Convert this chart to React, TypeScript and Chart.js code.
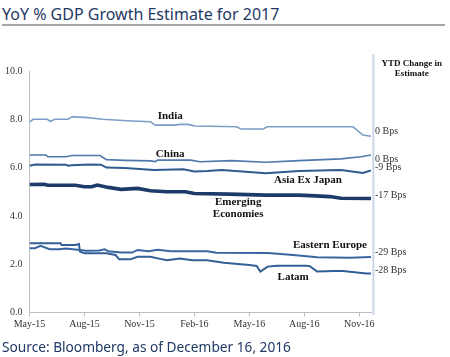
import React, { useEffect, useRef } from "react";
import { Chart, registerables } from "chart.js";

Chart.register(...registerables);

// x values are month indices counted from May-15 (0) ; y values are % YoY GDP growth estimates
const indiaX = [0, 0.2, 0.97, 1.13, 1.4, 2.1, 2.33, 3.04, 4.0, 5.33, 6.6, 6.86, 7.95, 8.2, 8.66, 9.04, 11.3, 11.55, 12.75, 12.97, 17.66, 18.2, 18.64];
const indiaY = [7.88, 8.0, 8.0, 7.92, 8.0, 8.0, 8.1, 8.08, 8.0, 7.94, 7.9, 7.76, 7.76, 7.79, 7.79, 7.72, 7.69, 7.6, 7.6, 7.69, 7.69, 7.35, 7.3];

const chinaX = [0, 0.9, 1.0, 2.0, 2.3, 3.85, 4.2, 5.2, 6.6, 6.85, 7.0, 8.8, 9.3, 11.0, 12.9, 14.7, 17.0, 18.1, 18.64];
const chinaY = [6.52, 6.52, 6.45, 6.45, 6.5, 6.5, 6.33, 6.3, 6.28, 6.25, 6.31, 6.31, 6.24, 6.29, 6.22, 6.29, 6.36, 6.45, 6.52];

const asiaX = [0, 0.3, 2.0, 2.1, 2.3, 3.3, 3.9, 4.2, 5.2, 6.8, 8.4, 9.0, 9.7, 10.5, 12.9, 14.7, 17.0, 18.2, 18.64];
const asiaY = [6.08, 6.13, 6.12, 6.08, 6.1, 6.13, 6.12, 6.0, 5.98, 5.9, 5.93, 5.84, 5.86, 5.9, 5.77, 5.86, 5.9, 5.78, 5.88];

const emX = [0, 0.8, 1.0, 2.5, 3.0, 3.4, 3.7, 4.3, 5.0, 5.9, 6.6, 7.5, 8.5, 9.0, 10.9, 12.9, 14.7, 15.6, 16.4, 17.0, 18.64];
const emY = [5.3, 5.31, 5.27, 5.27, 5.21, 5.21, 5.28, 5.18, 5.1, 5.14, 5.04, 5.0, 5.0, 4.93, 4.9, 4.86, 4.86, 4.83, 4.8, 4.73, 4.72];

const eeX = [0, 0.3, 0.6, 1.1, 1.6, 2.0, 3.1, 3.8, 4.1, 4.3, 5.0, 5.6, 5.9, 6.5, 7.0, 7.7, 9.7, 10.2, 13.0, 14.4, 15.7, 17.5, 18.64];
const eeY = [2.66, 2.66, 2.76, 2.62, 2.62, 2.65, 2.56, 2.57, 2.62, 2.54, 2.48, 2.48, 2.59, 2.54, 2.6, 2.54, 2.54, 2.47, 2.46, 2.38, 2.29, 2.27, 2.3];

const latamX = [0, 1.7, 1.75, 2.5, 2.7, 2.75, 3.0, 4.2, 4.7, 4.9, 5.5, 5.9, 6.6, 7.2, 7.5, 8.2, 8.9, 9.7, 10.6, 12.0, 12.4, 12.6, 13.0, 13.5, 15.1, 15.3, 15.7, 16.6, 17.1, 18.4, 18.64];
const latamY = [2.87, 2.87, 2.8, 2.8, 2.84, 2.52, 2.45, 2.45, 2.38, 2.2, 2.2, 2.31, 2.31, 2.21, 2.16, 2.24, 2.16, 2.16, 2.06, 1.97, 1.93, 1.69, 1.9, 1.94, 1.94, 1.92, 1.7, 1.72, 1.72, 1.62, 1.62];

const xTickValues = [0, 3, 6, 9, 12, 15, 18];
const xTickLabels = ["May-15", "Aug-15", "Nov-15", "Feb-16", "May-16", "Aug-16", "Nov-16"];
const yTickValues = [0, 2, 4, 6, 8, 10];

const seriesNames = ["India", "China", "Asia Ex Japan", "Emerging Economies", "Eastern Europe", "Latam"];
const ytdChanges = ["0 Bps", "0 Bps", "-9 Bps", "-17 Bps", "-29 Bps", "-28 Bps"];

const toPts = (xs: number[], ys: number[]) => xs.map((x, i) => ({ x, y: ys[i] }));

// annotation anchors in data units (month index, value)
const nameAnchors: [string, number, number][] = [
  ["India", 7.68, 8.14],
  ["China", 7.68, 6.56],
  ["Asia Ex Japan", 15.2, 5.49],
  ["Emerging", 11.39, 4.55],
  ["Economies", 11.39, 4.07],
  ["Eastern Europe", 16.4, 2.8],
  ["Latam", 14.39, 1.48],
];
const ytdAnchorsY = [7.52, 6.36, 6.01, 4.87, 2.49, 1.73];

const annotationPlugin = {
  id: "annot",
  afterDatasetsDraw(chart: any) {
    const { ctx, scales } = chart;
    const xs = scales.x;
    const ys = scales.y;
    ctx.save();
    // right divider line
    const lx = xs.getPixelForValue(18.77);
    ctx.strokeStyle = "#c9d6ea";
    ctx.lineWidth = 2;
    ctx.beginPath();
    ctx.moveTo(lx, ys.getPixelForValue(10.7));
    ctx.lineTo(lx, ys.getPixelForValue(-0.1));
    ctx.stroke();

    ctx.fillStyle = "#111";
    ctx.textBaseline = "middle";
    ctx.textAlign = "center";
    ctx.font = "bold 11px 'Liberation Serif'";
    nameAnchors.forEach(([t, x, y]) => {
      ctx.fillText(t, xs.getPixelForValue(x), ys.getPixelForValue(y));
    });

    ctx.font = "bold 9px 'Liberation Serif'";
    ctx.fillText("YTD Change in", xs.getPixelForValue(20.86), ys.getPixelForValue(10.29));
    ctx.fillText("Estimate", xs.getPixelForValue(20.86), ys.getPixelForValue(9.88));

    ctx.textAlign = "left";
    ctx.font = "10px 'Liberation Serif'";
    ctx.fillStyle = "#333";
    ytdChanges.forEach((t, i) => {
      ctx.fillText(t, xs.getPixelForValue(18.86), ys.getPixelForValue(ytdAnchorsY[i]));
    });
    ctx.restore();
  },
};

export default function App() {
  const ref = useRef<HTMLCanvasElement>(null);
  useEffect(() => {
    document.body.style.margin = "0";
    const colors = ["#7d9dc7", "#4f78ab", "#2f5b8e", "#1d3b68", "#3a66a0", "#335f97"];
    const widths = [1.6, 1.6, 2, 3.6, 2, 2];
    const data = [
      toPts(indiaX, indiaY),
      toPts(chinaX, chinaY),
      toPts(asiaX, asiaY),
      toPts(emX, emY),
      toPts(eeX, eeY),
      toPts(latamX, latamY),
    ];
    const chart = new Chart(ref.current!, {
      type: "line",
      data: {
        datasets: data.map((d, i) => ({
          label: seriesNames[i],
          data: d,
          borderColor: colors[i],
          borderWidth: widths[i],
          pointRadius: 0,
          tension: 0,
          fill: false,
        })),
      },
      options: {
        responsive: false,
        animation: false,
        events: [],
        layout: { padding: { left: 0, top: 71, right: 79, bottom: 0 } },
        plugins: { legend: { display: false }, tooltip: { enabled: false }, title: { display: false } },
        scales: {
          x: {
            type: "linear",
            min: 0,
            max: 18.64,
            afterFit: (s: any) => { s.height = 44.5; },
            afterBuildTicks: (s: any) => { s.ticks = xTickValues.map((v) => ({ value: v })); },
            ticks: {
              autoSkip: false,
              maxRotation: 0,
              padding: 2,
              color: "#333",
              font: { family: "'Liberation Serif'", size: 10 },
              callback: (v: any) => {
                const i = xTickValues.indexOf(Number(v));
                return i >= 0 ? xTickLabels[i] : "";
              },
            },
            grid: { drawOnChartArea: false, drawTicks: true, tickLength: 4, color: "#bfbfbf" },
            border: { display: true, color: "#bfbfbf", width: 1 },
          },
          y: {
            min: 0,
            max: 10,
            afterFit: (s: any) => { s.width = 29.5; },
            afterBuildTicks: (s: any) => { s.ticks = yTickValues.map((v) => ({ value: v })); },
            ticks: {
              padding: 7,
              color: "#333",
              font: { family: "'Liberation Serif'", size: 10 },
              callback: (v: any) => Number(v).toFixed(1),
            },
            grid: { display: false, drawTicks: false },
            border: { display: true, color: "#bfbfbf", width: 1 },
          },
        },
      },
      plugins: [annotationPlugin],
    });
    return () => chart.destroy();
  }, []);

  return (
    <div style={{ position: "relative", width: 450, height: 357, background: "#fff", overflow: "hidden" }}>
      <div
        style={{
          position: "absolute", left: 2, top: 4, fontFamily: "'Noto Sans'", fontSize: 16,
          lineHeight: "20px", color: "#1f3864", whiteSpace: "nowrap",
        }}
      >
        YoY % GDP Growth Estimate for 2017
      </div>
      <div style={{ position: "absolute", left: 2, top: 24, width: 443, height: 1.5, background: "#a6a6a6" }} />
      <canvas ref={ref} width={450} height={357} style={{ position: "absolute", left: 0, top: 0 }} />
      <div
        style={{
          position: "absolute", left: 2, top: 338, fontFamily: "'Noto Sans'", fontSize: 13.7,
          lineHeight: "18px", color: "#1f3864", whiteSpace: "nowrap",
        }}
      >
        Source: Bloomberg, as of December 16, 2016
      </div>
    </div>
  );
}
